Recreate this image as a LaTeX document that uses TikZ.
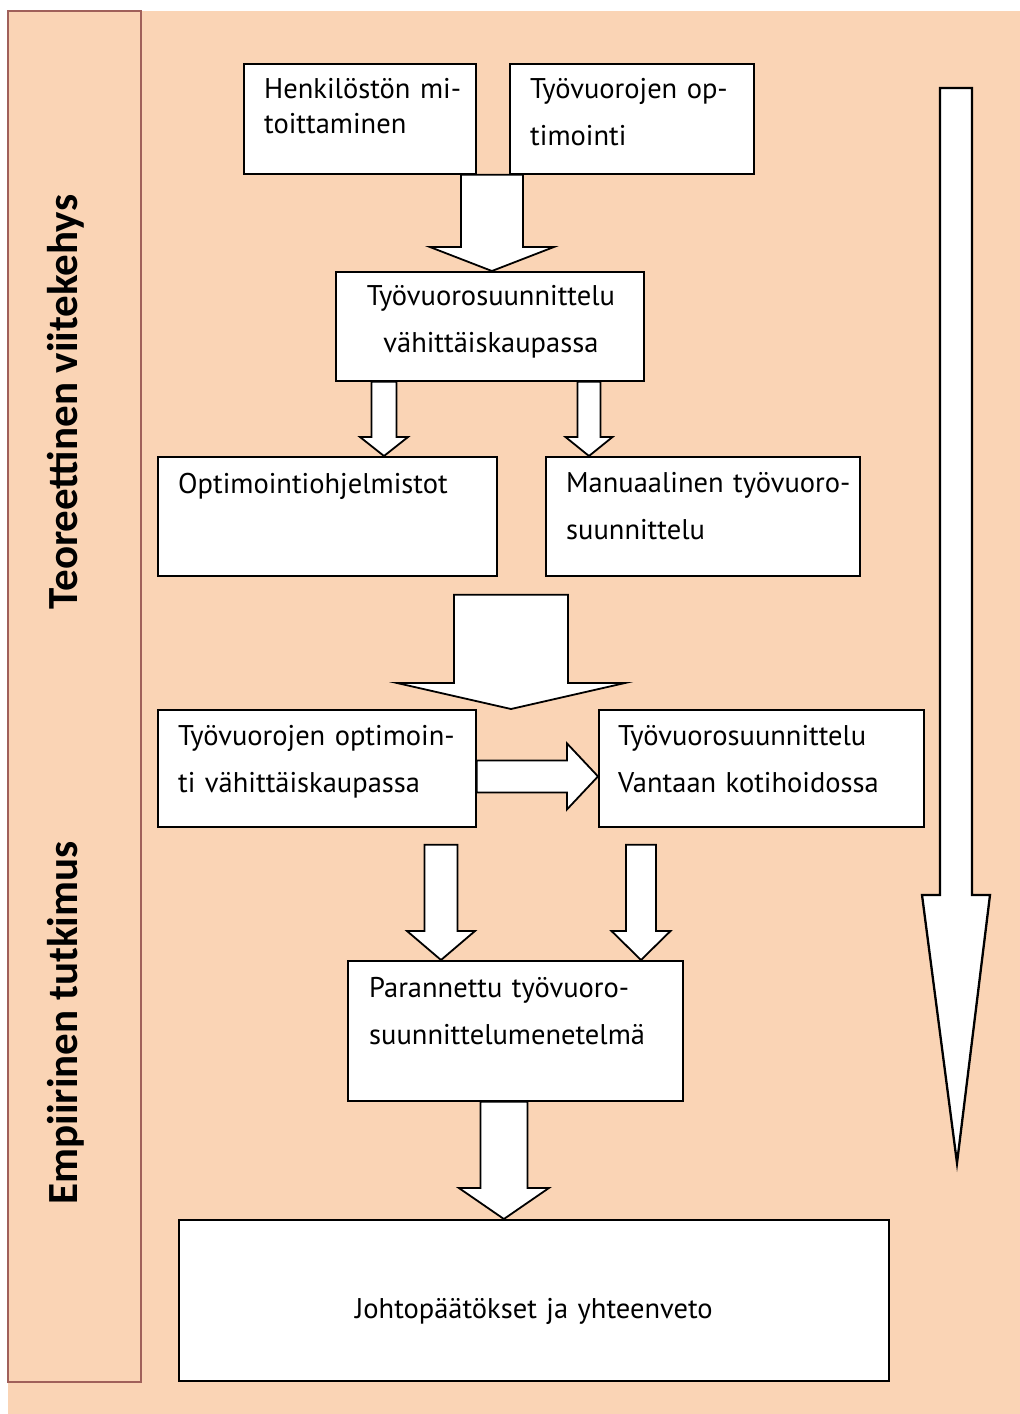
\documentclass[tikz,border=0pt]{standalone}
\usepackage{fontspec}
\setmainfont{PT Sans}
\newfontfamily\sidefont{Carlito}
\usetikzlibrary{calc}
\definecolor{peach}{RGB}{250,212,181}
\definecolor{sideline}{RGB}{160,96,90}

% vertical block arrow: #1 start of shaft, #2 tip, #3 shaft half width,
% #4 head half width, #5 head length
\newcommand\blockdown[5]{%
  \draw[blockarrow] let \p1=(#1), \p2=(#2) in
    (\x2-#3pt,\y1) -- (\x2+#3pt,\y1) -- (\x2+#3pt,\y2+#5pt) -- (\x2+#4pt,\y2+#5pt)
    -- (\x2,\y2) -- (\x2-#4pt,\y2+#5pt) -- (\x2-#3pt,\y2+#5pt) -- cycle;}
% horizontal block arrow pointing right
\newcommand\blockright[5]{%
  \draw[blockarrow] let \p1=(#1), \p2=(#2) in
    (\x1,\y2+#3pt) -- (\x1,\y2-#3pt) -- (\x2-#5pt,\y2-#3pt) -- (\x2-#5pt,\y2-#4pt)
    -- (\x2,\y2) -- (\x2-#5pt,\y2+#4pt) -- (\x2-#5pt,\y2+#3pt) -- cycle;}

\begin{document}
\begin{tikzpicture}[x=1pt,y=-1pt,
  box/.style={draw=black,line width=1.8pt,fill=white,inner sep=0pt,anchor=north west},
  boxtext/.style={anchor=base west,inner sep=0pt,align=left,
    font=\fontsize{28.5}{47}\selectfont},
  blockarrow/.style={draw=black,line width=1.8pt,fill=white,line join=miter},
  sidelabel/.style={rotate=90,anchor=base,inner sep=0pt,
    font=\sidefont\bfseries\fontsize{43}{43}\selectfont}]

\useasboundingbox (0,0) rectangle (1020,1414);
\fill[peach] (8,11) rectangle (1020,1414);
\draw[sideline,line width=1.5pt] (8,11) rectangle (141,1382);

% side labels
\node[sidelabel] (sideT) at (77,402) {Teoreettinen viitekehys};
\node[sidelabel] (sideE) at (77,1023) {Empiirinen tutkimus};

% boxes
\node[box,minimum width=232pt,minimum height=110pt] (A) at (243,63) {};
\node[box,minimum width=244pt,minimum height=110pt] (B) at (509,63) {};
\node[box,minimum width=308pt,minimum height=109pt] (C) at (335,271) {};
\node[box,minimum width=339pt,minimum height=119pt] (D) at (157,456) {};
\node[box,minimum width=314pt,minimum height=119pt] (E) at (545,456) {};
\node[box,minimum width=318pt,minimum height=117pt] (F) at (157,709) {};
\node[box,minimum width=325pt,minimum height=117pt] (G) at (598,709) {};
\node[box,minimum width=335pt,minimum height=140pt] (H) at (347,960) {};
\node[box,minimum width=710pt,minimum height=161pt] (I) at (178,1219) {};

% box texts
\node[boxtext,text width=220pt,font=\fontsize{28.5}{35}\selectfont] (At)
  at ($(A.north west)+(21,35)$) {Henkilöstön mi-\\toittaminen};
\node[boxtext,text width=230pt] (Bt) at ($(B.north west)+(21,35)$) {Työvuorojen op-\\timointi};
\node[boxtext,text width=300pt,align=center,anchor=base] (Ct)
  at ($(C.north)+(1,34)$) {Työvuorosuunnittelu\\vähittäiskaupassa};
\node[boxtext,text width=320pt] (Dt) at ($(D.north west)+(21,37)$) {Optimointiohjelmistot};
\node[boxtext,text width=300pt] (Et) at ($(E.north west)+(21,36)$) {Manuaalinen työvuoro-\\suunnittelu};
\node[boxtext,text width=300pt] (Ft) at ($(F.north west)+(21,36)$) {Työvuorojen optimoin-\\ti vähittäiskaupassa};
\node[boxtext,text width=300pt] (Gt) at ($(G.north west)+(20,36)$) {Työvuorosuunnittelu\\Vantaan kotihoidossa};
\node[boxtext,text width=320pt] (Ht) at ($(H.north west)+(22,37)$) {Parannettu työvuoro-\\suunnittelumenetelmä};
\node[boxtext,anchor=base,align=center,text width=600pt] (It) at ($(I.north)+(0,99)$) {Johtopäätökset ja yhteenveto};

% connectors
\blockdown{A.south}{$(C.north)+(2,0)$}{31}{62}{24}
\blockdown{C.south}{D.north -| 384,0}{12.5}{24}{19}
\blockdown{C.south}{E.north -| 589,0}{11.5}{23.5}{19}
\blockdown{$(D.south)+(0,18)$}{F.north -| 511,0}{57}{114}{26}
\blockright{F.east}{$(G.west)+(0,8)$}{16}{33}{31}
\blockdown{$(F.south)+(0,17)$}{H.north -| 441,0}{16.5}{34}{29}
\blockdown{$(G.south)+(0,17)$}{H.north -| 641,0}{15}{29.5}{29}
\blockdown{H.south}{$(I.north)+(-30,0)$}{23.5}{45}{31}

% overall progress arrow on the right
\coordinate (flowtop) at (956,88);
\coordinate (flowtip) at (957,1163);
\draw[blockarrow,line width=2.3pt] (flowtop) ++(-16,0) -- ++(32,0) -- (972,895) -- (990,895)
  -- (flowtip) -- (922,895) -- (940,895) -- cycle;
\end{tikzpicture}
\end{document}
